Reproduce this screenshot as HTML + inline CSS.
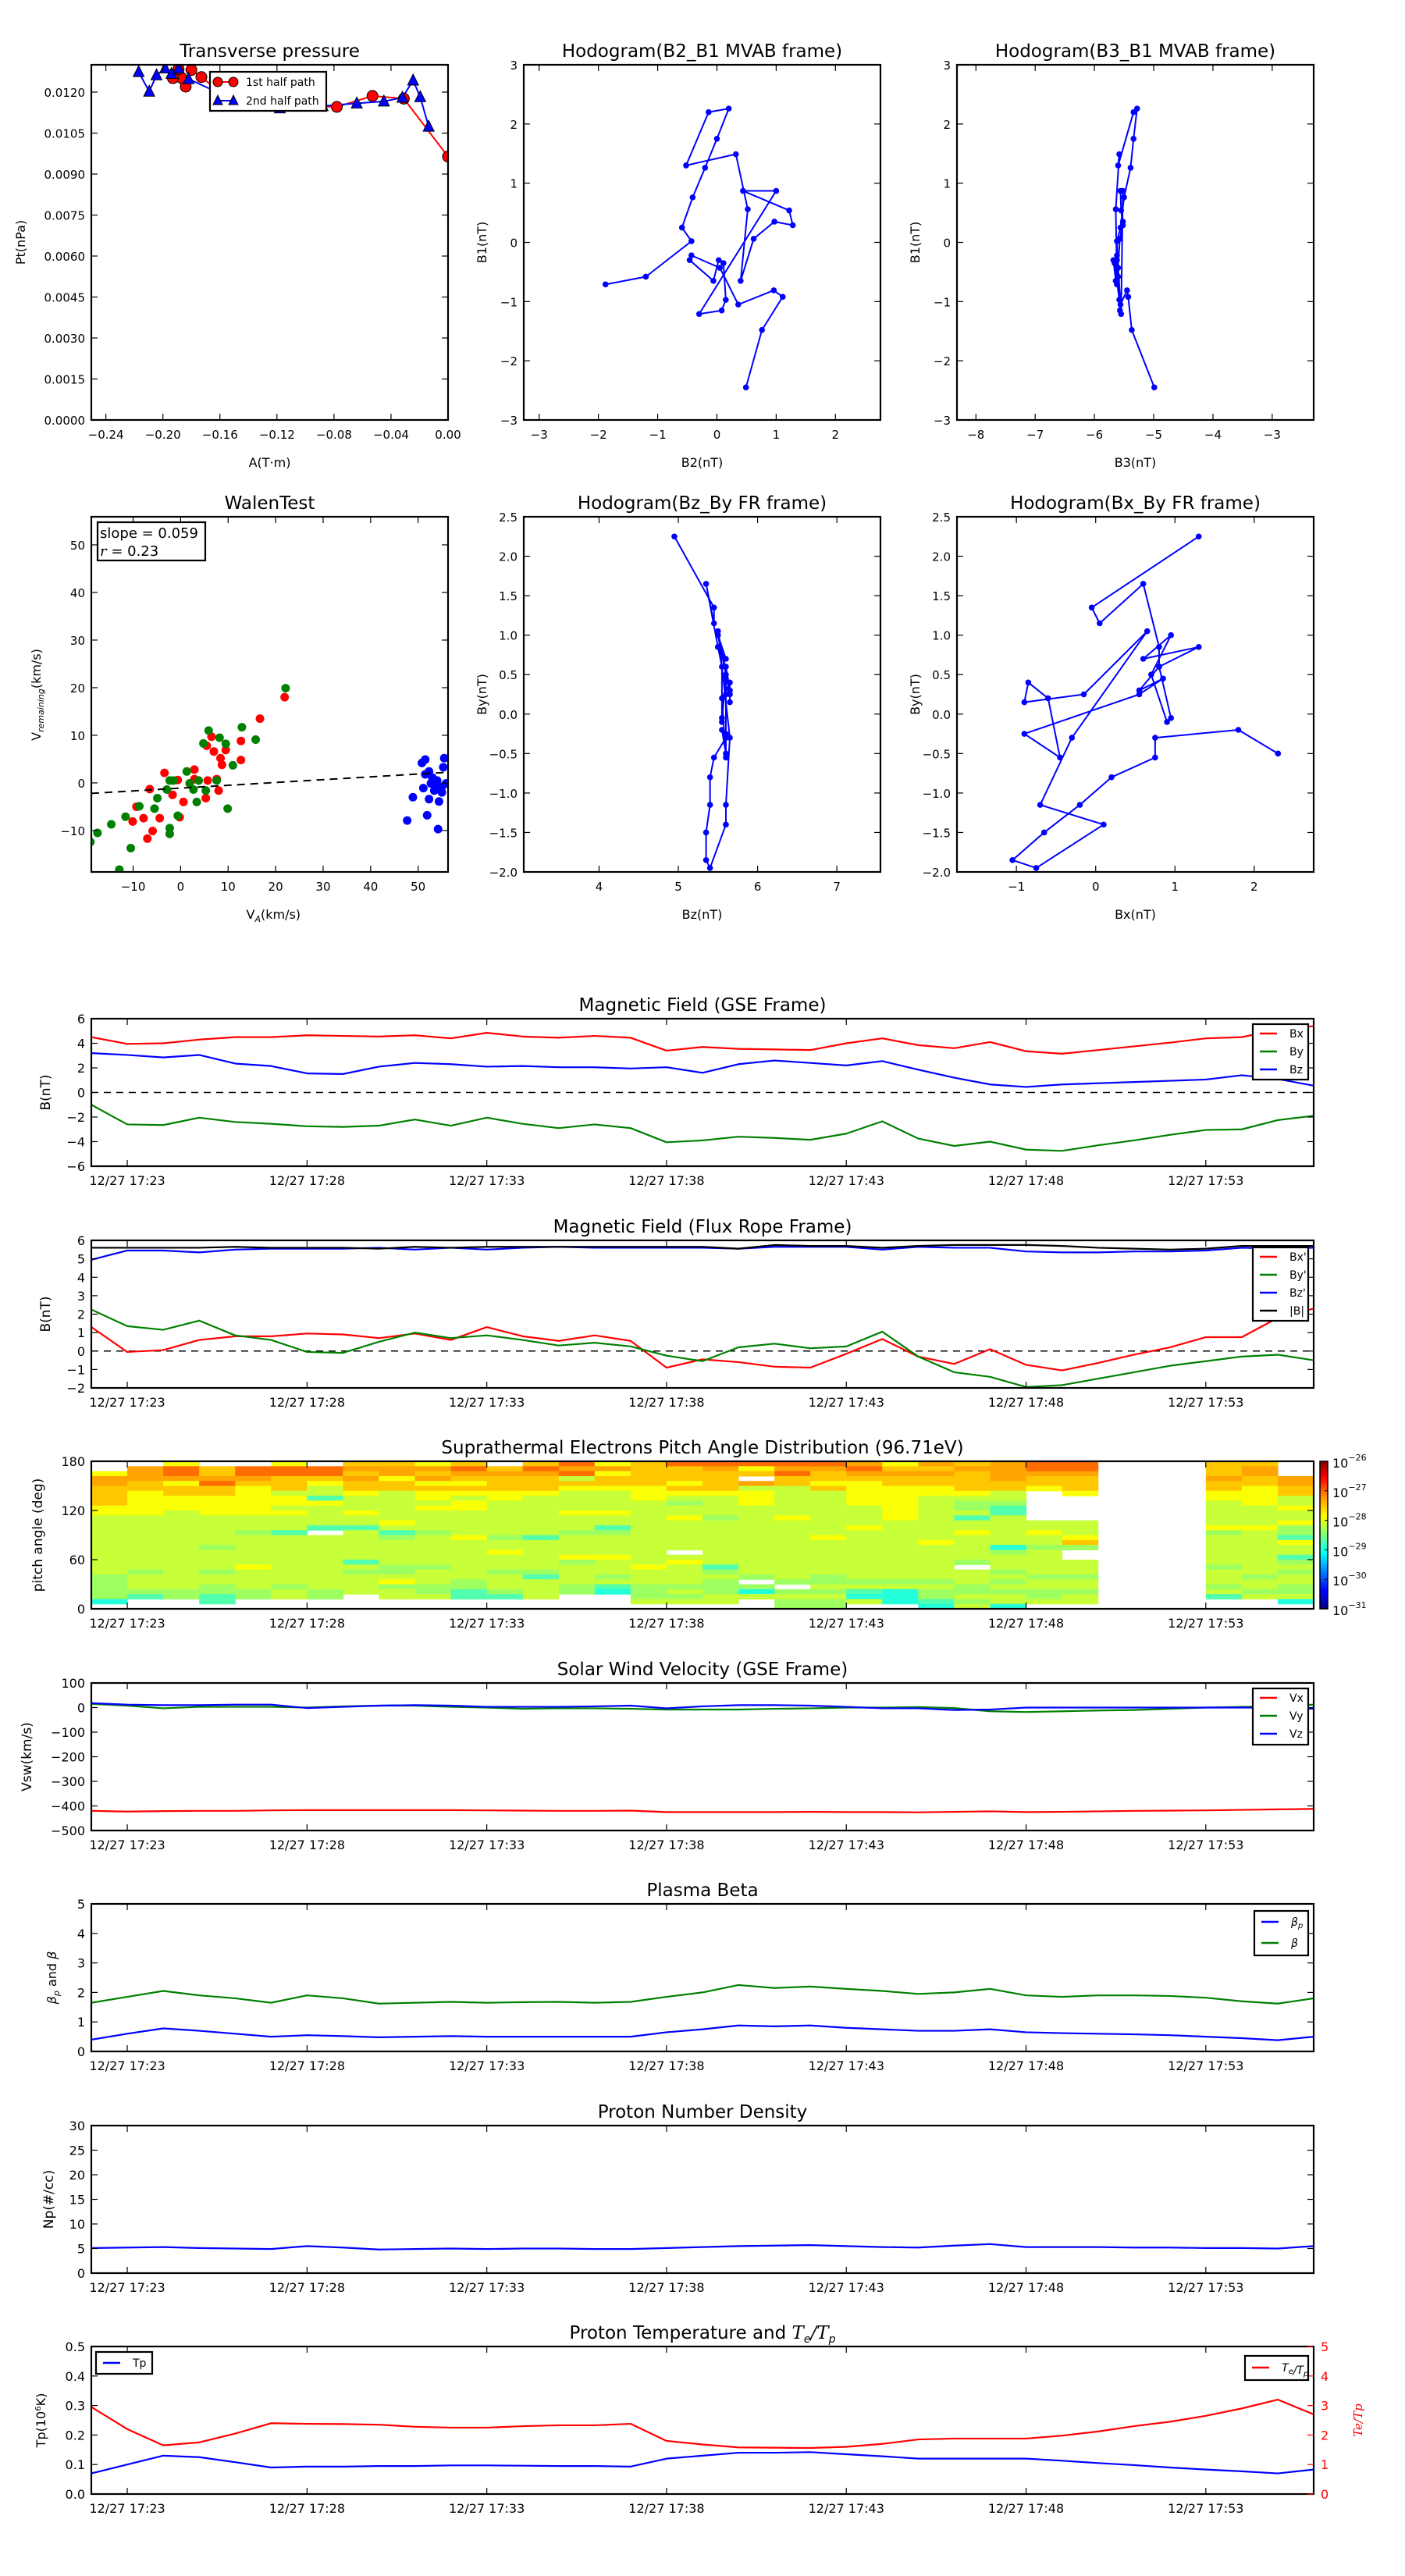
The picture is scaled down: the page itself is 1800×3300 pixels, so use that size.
<!DOCTYPE html>
<html><head><meta charset="utf-8"><title>Flux rope analysis</title>
<style>
html,body{margin:0;padding:0;background:#fff;}
svg{display:block;font-family:"DejaVu Sans","Liberation Sans",sans-serif;}
</style></head>
<body>
<svg id="fig" width="1800" height="3300" viewBox="0 0 1800 3300" xmlns="http://www.w3.org/2000/svg">
<rect x="0" y="0" width="1800" height="3300" fill="#fff"/>
<defs>
<linearGradient id="jetgrad" x1="0" y1="1" x2="0" y2="0">
<stop offset="0" stop-color="#00007f"/><stop offset="0.11" stop-color="#0000ff"/><stop offset="0.125" stop-color="#0000ff"/>
<stop offset="0.34" stop-color="#00ddff"/><stop offset="0.375" stop-color="#00ffff"/><stop offset="0.5" stop-color="#7fff7f"/>
<stop offset="0.625" stop-color="#ffff00"/><stop offset="0.75" stop-color="#ff9900"/><stop offset="0.89" stop-color="#ff0000"/><stop offset="1" stop-color="#7f0000"/>
</linearGradient>
</defs>
</svg>
<script>
// ---------- data ----------
const times = [-1,0,1,2,3,4,5,6,7,8,9,10,11,12,13,14,15,16,17,18,19,20,21,22,23,24,25,26,27,28,29,30,31,32,33];
const timeTicks = [0,5,10,15,20,25,30];
const timeTickLabels = ["12/27 17:23","12/27 17:28","12/27 17:33","12/27 17:38","12/27 17:43","12/27 17:48","12/27 17:53"];

const gseBx = [4.5,3.95,4.0,4.3,4.5,4.5,4.65,4.6,4.55,4.65,4.4,4.85,4.55,4.45,4.6,4.45,3.4,3.7,3.55,3.5,3.45,4.0,4.4,3.85,3.6,4.1,3.35,3.15,3.45,3.75,4.05,4.4,4.5,5.1,5.4];
const gseBy = [-1.0,-2.6,-2.65,-2.05,-2.4,-2.55,-2.75,-2.8,-2.7,-2.2,-2.7,-2.05,-2.55,-2.9,-2.6,-2.9,-4.05,-3.9,-3.6,-3.7,-3.85,-3.35,-2.35,-3.75,-4.35,-4.0,-4.65,-4.75,-4.3,-3.9,-3.45,-3.05,-3.0,-2.25,-1.9];
const gseBz = [3.2,3.05,2.85,3.05,2.35,2.15,1.55,1.5,2.1,2.4,2.3,2.1,2.15,2.05,2.05,1.95,2.05,1.6,2.3,2.6,2.4,2.2,2.55,1.85,1.2,0.65,0.45,0.65,0.75,0.85,0.95,1.05,1.4,1.1,0.55];

const frBx = [1.3,-0.05,0.05,0.6,0.8,0.8,0.95,0.9,0.7,0.95,0.6,1.3,0.8,0.55,0.85,0.55,-0.9,-0.45,-0.6,-0.85,-0.9,-0.15,0.65,-0.3,-0.7,0.1,-0.75,-1.05,-0.65,-0.2,0.2,0.75,0.75,1.8,2.3];
const frBy = [2.25,1.35,1.15,1.65,0.85,0.6,-0.05,-0.1,0.5,1.0,0.7,0.85,0.6,0.3,0.45,0.25,-0.25,-0.55,0.2,0.4,0.15,0.25,1.05,-0.3,-1.15,-1.4,-1.95,-1.85,-1.5,-1.15,-0.8,-0.55,-0.3,-0.2,-0.5];
const frBz = [4.95,5.45,5.45,5.35,5.5,5.55,5.55,5.55,5.6,5.5,5.6,5.5,5.6,5.65,5.6,5.6,5.6,5.6,5.55,5.65,5.65,5.65,5.5,5.65,5.6,5.6,5.4,5.35,5.35,5.4,5.4,5.45,5.6,5.55,5.6];
const frBt = [5.6,5.6,5.6,5.6,5.65,5.6,5.6,5.6,5.55,5.65,5.6,5.65,5.65,5.65,5.65,5.65,5.65,5.65,5.55,5.75,5.7,5.7,5.6,5.7,5.75,5.75,5.75,5.7,5.6,5.55,5.5,5.55,5.7,5.7,5.7];

const swVx = [-420,-423,-421,-420,-420,-418,-417,-417,-417,-417,-417,-418,-419,-420,-420,-419,-425,-425,-425,-425,-424,-425,-425,-426,-424,-422,-425,-424,-422,-420,-419,-418,-416,-414,-412];
const swVy = [15,8,-3,3,3,3,0,5,8,8,3,0,-5,-3,-3,-5,-8,-8,-8,-5,-3,0,0,2,-2,-15,-18,-15,-12,-10,-5,0,3,5,12];
const swVz = [18,12,10,10,12,12,-2,3,8,10,8,3,3,3,5,8,-3,5,10,10,8,3,-3,-3,-10,-8,0,0,0,0,0,0,0,0,-5];

const betaP = [0.4,0.6,0.78,0.7,0.6,0.5,0.55,0.52,0.48,0.5,0.52,0.5,0.5,0.5,0.5,0.5,0.65,0.75,0.88,0.85,0.88,0.8,0.75,0.7,0.7,0.75,0.65,0.62,0.6,0.58,0.55,0.5,0.45,0.38,0.5];
const betaAll = [1.65,1.85,2.05,1.9,1.8,1.65,1.9,1.8,1.62,1.65,1.68,1.65,1.67,1.68,1.65,1.68,1.85,2.0,2.25,2.15,2.2,2.12,2.05,1.95,2.0,2.12,1.9,1.85,1.9,1.9,1.88,1.82,1.7,1.62,1.8];

const protonNp = [5.1,5.2,5.3,5.1,5.0,4.9,5.5,5.2,4.8,4.9,5.0,4.9,5.0,5.0,4.9,4.9,5.1,5.3,5.5,5.6,5.7,5.5,5.3,5.2,5.6,5.9,5.3,5.3,5.3,5.2,5.2,5.1,5.1,5.0,5.5];

const protonTp = [0.07,0.1,0.13,0.125,0.108,0.09,0.093,0.093,0.095,0.095,0.097,0.097,0.096,0.095,0.095,0.093,0.12,0.13,0.14,0.14,0.142,0.135,0.128,0.12,0.12,0.12,0.12,0.113,0.105,0.098,0.09,0.083,0.077,0.07,0.083];
const teTpRatio = [2.95,2.2,1.65,1.75,2.05,2.4,2.38,2.37,2.35,2.28,2.25,2.25,2.3,2.33,2.33,2.38,1.8,1.68,1.58,1.57,1.56,1.6,1.7,1.85,1.88,1.88,1.88,1.98,2.12,2.3,2.45,2.65,2.9,3.2,2.7];

// transverse pressure
const tpA1 = [0,-0.031,-0.053,-0.078,-0.12,-0.16,-0.173,-0.18,-0.184,-0.187,-0.189,-0.193];
const tpP1 = [0.00964,0.01176,0.01186,0.01146,0.0115,0.0120,0.01255,0.01281,0.0122,0.01252,0.01284,0.01251];
const tpA2 = [-0.217,-0.2096,-0.2045,-0.1984,-0.194,-0.189,-0.182,-0.162,-0.118,-0.088,-0.064,-0.045,-0.032,-0.0245,-0.0195,-0.0136];
const tpP2 = [0.01274,0.01202,0.01262,0.01287,0.01267,0.01287,0.01248,0.0120,0.01141,0.01149,0.01159,0.01166,0.0118,0.01243,0.01182,0.01074];

// MVAB hodograms
const mvB1 = [-0.71,-0.58,0.02,0.25,0.76,1.26,1.75,2.26,2.20,1.30,1.49,0.56,-0.65,0.06,0.35,0.29,0.54,0.87,0.87,-1.21,-1.15,-0.97,-0.35,-0.30,-0.65,-0.30,-0.22,-0.43,-1.05,-0.81,-0.92,-1.48,-2.45];
const mvB2 = [-1.88,-1.20,-0.43,-0.59,-0.41,-0.20,0.00,0.20,-0.14,-0.52,0.32,0.52,0.40,0.62,0.97,1.28,1.22,0.44,1.00,-0.30,0.08,0.15,0.11,0.03,-0.06,-0.46,-0.43,0.05,0.36,0.96,1.11,0.76,0.49];
const mvB3 = [-5.62,-5.60,-5.62,-5.56,-5.50,-5.39,-5.34,-5.28,-5.34,-5.60,-5.58,-5.64,-5.62,-5.57,-5.52,-5.52,-5.55,-5.56,-5.52,-5.55,-5.57,-5.58,-5.66,-5.62,-5.64,-5.68,-5.62,-5.60,-5.56,-5.45,-5.43,-5.37,-4.99];

// Walen test
const walenRedX = [21.9,16.7,12.7,12.7,6.5,9.5,8.4,8.7,7.0,5.5,8.0,7.6,5.3,5.7,2.9,0.6,-0.2,-1.7,-3.4,-4.4,-6.5,-5.9,-7.0,-7.8,-10.1,-9.3,2.9,-0.6];
const walenRedY = [18.0,13.5,8.8,4.8,9.7,6.9,5.2,3.8,6.6,7.8,-1.6,0.8,-3.2,0.5,2.8,-4.0,-7.2,-2.5,2.1,-7.4,-1.3,-10.1,-11.7,-7.4,-8.1,-5.0,0.8,0.6];
const walenGreenX = [22.1,12.9,15.8,5.9,8.2,4.8,9.5,11.0,9.9,7.6,3.8,5.3,1.3,1.9,2.7,3.4,-1.5,-2.3,-2.9,-4.9,-5.5,-8.7,-2.3,-2.3,-0.6,-11.6,-14.6,-17.5,-10.5,-19.0,-12.9];
const walenGreenY = [19.9,11.7,9.1,11.0,9.5,8.3,8.2,3.7,-5.4,0.5,0.5,-1.6,2.4,-0.1,-1.4,-4.0,0.5,0.5,-1.4,-3.2,-5.4,-4.9,-9.5,-10.7,-6.9,-7.1,-8.7,-10.5,-13.7,-12.4,-18.2];
const walenBlueX = [50.8,51.5,52.3,53.0,54.0,55.0,55.5,55.3,52.3,48.9,47.7,51.9,54.2,53.4,55.0,55.9,52.7,51.5,54.4,53.8,51.1];
const walenBlueY = [4.2,4.9,2.4,1.1,0.5,-0.8,5.2,3.3,-3.4,-3.0,-7.9,-6.8,-9.7,-1.6,-2.0,-0.1,-0.1,1.8,-3.9,-0.8,-1.1];
const walenSlope = 0.059;
const walenIntercept = -1.09;

// pitch-angle distribution: one string per time column, 30 bins from 180 deg down to 0 deg
const padCodes = {r:-27.16,o:-27.43,a:-27.6,y:-27.9,l:-28.15,g:-28.35,c:-28.73,t:-28.95};
const padCols = [
"..yooaaaayyllllllllllllgggggt.",
".oooaayyyyylllllllllllglllgc..",
"yrroyaayyyllllllllllllllllgg..",
".aaoraayyyyllllllgllllgllggcc.",
".rroayyyyyylllgllllllyllllgg..",
"yrraaalyylylllcllllllllllgll..",
".rrayllcyllllc.lllllllllllgg..",
"aoaoaaylllyllcllllllclgllll...",
"aooyaallllllylcglllllgglygll..",
"yoaoyayylyllllgllllllglllggl..",
"aroayaylyylllllyllllllllggcc..",
".aoaaayylllllllgllylllglllgc..",
"aroaaayllllllllcllllllgcllll..",
"rorlayllllylllgllllygllllgg...",
"yoyaayllllyllcgllllylllglct...",
"aaaaayyylllllllllllllylllgggl.",
"raaayaylgllyllllll.lyllllglgl.",
"roaaaayllllglllllllllcglgggll.",
"rya.olyyyllllllllllllllg.gtl..",
"roraallllllyllllllllllllg.glgg",
"roaayalllllllllylllllllgglglgg",
"oroayyyyyllllyllllllllllglctl.",
"yaoaayyyyyyyllllllllllllglttt.",
"oaoaayylllllllllylllllllglggct",
"aoaaaaylgglcllylllllg.lllgglgl",
"ooooaallgcclllllltglllglglgllt",
"rroaay......llyllglllllgllggl.",
"rroaaay.....lllyag..lllgllgll.",
"..............................",
"..............................",
"..............................",
"aaaoaayylllllygllllllglllglc..",
"aooaayyyyllllylllllllllgllgl..",
"...ooaallyllyggcyllcglgllgglt."
];
const padLogMin = -31, padLogMax = -26;

// ---------- drawing helpers ----------
const NS = 'http://www.w3.org/2000/svg';
const svg = document.getElementById('fig');
let clipCount = 0;
function mk(tag, attrs, parent, name) {
  const e = document.createElementNS(NS, tag);
  for (const k in attrs) e.setAttribute(k, attrs[k]);
  
  
  (parent || svg).appendChild(e);
  return e;
}
function text(str, x, y, size, anchor, parent, name, extra) {
  const a = {x: x, y: y, 'font-size': size, 'text-anchor': anchor || 'middle', fill: '#000'};
  if (extra) for (const k in extra) a[k] = extra[k];
  const t = mk('text', a, parent, name);
  t.textContent = str;
  return t;
}
function fmtMinus(s) { return String(s).replace('-', '\u2212'); }

function makeAxes(name, x0, y0, w, h, xr, yr) {
  const g = mk('g', {}, svg, name);
  const id = 'clip' + (clipCount++);
  const cp = mk('clipPath', {id: id}, g, name + '-clip');
  mk('rect', {x: x0, y: y0, width: w, height: h}, cp, name + '-clip-rect');
  const plot = mk('g', {'clip-path': 'url(#' + id + ')'}, g, name + '-plot-area');
  const ax = {g: g, plot: plot, x0: x0, y0: y0, w: w, h: h,
    sx: v => x0 + (v - xr[0]) / (xr[1] - xr[0]) * w,
    sy: v => y0 + h - (v - yr[0]) / (yr[1] - yr[0]) * h};
  return ax;
}
function frame(ax, name) {
  mk('rect', {x: ax.x0, y: ax.y0, width: ax.w, height: ax.h, fill: 'none', stroke: '#000', 'stroke-width': 2.2}, ax.g, name);
}
function xTicks(ax, vals, labels, name, size) {
  vals.forEach((v, i) => {
    const x = ax.sx(v);
    mk('line', {x1: x, y1: ax.y0 + ax.h, x2: x, y2: ax.y0 + ax.h - 8, stroke: '#000', 'stroke-width': 1.2}, ax.g, name + '-tick');
    mk('line', {x1: x, y1: ax.y0, x2: x, y2: ax.y0 + 8, stroke: '#000', 'stroke-width': 1.2}, ax.g, name + '-tick-top');
    text(labels[i], x, ax.y0 + ax.h + 24, size || 16, 'middle', ax.g, name + '-label');
  });
}
function yTicks(ax, vals, labels, name, opts) {
  opts = opts || {};
  vals.forEach((v, i) => {
    const y = ax.sy(v);
    mk('line', {x1: ax.x0, y1: y, x2: ax.x0 + 8, y2: y, stroke: '#000', 'stroke-width': 1.2}, ax.g, name + '-tick');
    mk('line', {x1: ax.x0 + ax.w, y1: y, x2: ax.x0 + ax.w - 8, y2: y, stroke: opts.rightColor || '#000', 'stroke-width': 1.2}, ax.g, name + '-tick-right');
    if (!opts.noLabel) text(labels[i], ax.x0 - 8, y + 6, opts.size || 16, 'end', ax.g, name + '-label');
  });
}
function line(ax, xs, ys, color, name, width, dash) {
  const pts = xs.map((x, i) => ax.sx(x).toFixed(2) + ',' + ax.sy(ys[i]).toFixed(2)).join(' ');
  const a = {points: pts, fill: 'none', stroke: color, 'stroke-width': width || 2.2, 'stroke-linejoin': 'round'};
  if (dash) a['stroke-dasharray'] = dash;
  return mk('polyline', a, ax.plot, name);
}
function dots(ax, xs, ys, color, r, name) {
  xs.forEach((x, i) => {
    mk('circle', {cx: ax.sx(x), cy: ax.sy(ys[i]), r: r, fill: color}, ax.plot, name);
  });
}
function title(ax, str, name) { return text(str, ax.x0 + ax.w / 2, ax.y0 - 10, 23, 'middle', svg, name); }
function ylabel(str, x, y, name, size, color) {
  return text(str, x, y, size || 17, 'middle', svg, name, {transform: 'rotate(-90 ' + x + ' ' + y + ')', fill: color || '#000'});
}
function legend(x, y, w, h, entries, name) {
  const g = mk('g', {}, svg, name);
  mk('rect', {x: x, y: y, width: w, height: h, fill: '#fff', stroke: '#000', 'stroke-width': 2.2}, g, name + '-box');
  entries.forEach(e => {
    mk('line', {x1: x + 9, y1: e.y, x2: x + 31, y2: e.y, stroke: e.color, 'stroke-width': 2.5}, g, name + '-swatch');
    const t = text('', x + 47, e.y + 5, 14, 'start', g, name + '-entry');
    e.parts.forEach(p => {
      const s = document.createElementNS(NS, 'tspan');
      
      
      if (p.sub) { s.setAttribute('font-size', '10'); s.setAttribute('dy', '3'); }
      if (p.it) s.setAttribute('font-style', 'italic');
      s.textContent = p.t;
      t.appendChild(s);
    });
  });
}
function jet(v) {
  const c = x => Math.max(0, Math.min(1, x));
  const r = c(1.5 - Math.abs(4 * v - 3)), g = c(1.5 - Math.abs(4 * v - 2)), b = c(1.5 - Math.abs(4 * v - 1));
  return 'rgb(' + Math.round(r * 255) + ',' + Math.round(g * 255) + ',' + Math.round(b * 255) + ')';
}

const TX = 117, TW = 1566, TH = 189;
const tRange = [times[0], times[times.length - 1]];

// ---------- Transverse pressure ----------
(function () {
  const ax = makeAxes('transverse-pressure-chart', 117, 83, 457, 455, [-0.2502, 0], [0, 0.0130]);
  line(ax, tpA1, tpP1, '#ff0000', 'first-half-path-line', 2);
  line(ax, tpA2, tpP2, '#0000ff', 'second-half-path-line', 2);
  tpA1.forEach((a, i) => {
    mk('circle', {cx: ax.sx(a), cy: ax.sy(tpP1[i]), r: 7, fill: '#ff0000', stroke: '#000', 'stroke-width': 1}, ax.plot, 'first-half-marker');
  });
  tpA2.forEach((a, i) => {
    const x = ax.sx(a), y = ax.sy(tpP2[i]);
    mk('polygon', {points: x + ',' + (y - 8) + ' ' + (x - 7) + ',' + (y + 6) + ' ' + (x + 7) + ',' + (y + 6), fill: '#0000ff', stroke: '#000', 'stroke-width': 1}, ax.plot, 'second-half-marker');
  });
  frame(ax, 'transverse-pressure-frame');
  xTicks(ax, [-0.24, -0.20, -0.16, -0.12, -0.08, -0.04, 0], ['\u22120.24', '\u22120.20', '\u22120.16', '\u22120.12', '\u22120.08', '\u22120.04', '0.00'], 'pt-x-tick', 15);
  yTicks(ax, [0, 0.0015, 0.003, 0.0045, 0.006, 0.0075, 0.009, 0.0105, 0.012], ['0.0000', '0.0015', '0.0030', '0.0045', '0.0060', '0.0075', '0.0090', '0.0105', '0.0120'], 'pt-y-tick', {size: 15});
  title(ax, 'Transverse pressure', 'transverse-pressure-title');
  text('A(T\u00b7m)', ax.x0 + ax.w / 2, 598, 16, 'middle', svg, 'pt-x-axis-title');
  ylabel('Pt(nPa)', 32, ax.y0 + ax.h / 2, 'pt-y-axis-title', 16);
  const lg = mk('g', {}, svg, 'pt-legend');
  mk('rect', {x: 269, y: 92, width: 149, height: 50, fill: '#fff', stroke: '#000', 'stroke-width': 2.2}, lg, 'pt-legend-box');
  mk('line', {x1: 279, y1: 105, x2: 299, y2: 105, stroke: '#ff0000', 'stroke-width': 2}, lg, 'pt-legend-red-line');
  mk('circle', {cx: 279, cy: 105, r: 6, fill: '#ff0000', stroke: '#000', 'stroke-width': 1}, lg, 'pt-legend-red-marker');
  mk('circle', {cx: 299, cy: 105, r: 6, fill: '#ff0000', stroke: '#000', 'stroke-width': 1}, lg, 'pt-legend-red-marker');
  text('1st half path', 315, 110, 14, 'start', lg, 'pt-legend-first');
  mk('line', {x1: 279, y1: 129, x2: 299, y2: 129, stroke: '#0000ff', 'stroke-width': 2}, lg, 'pt-legend-blue-line');
  mk('polygon', {points: '279,122 273,134 285,134', fill: '#0000ff', stroke: '#000', 'stroke-width': 1}, lg, 'pt-legend-blue-marker');
  mk('polygon', {points: '299,122 293,134 305,134', fill: '#0000ff', stroke: '#000', 'stroke-width': 1}, lg, 'pt-legend-blue-marker');
  text('2nd half path', 315, 134, 14, 'start', lg, 'pt-legend-second');
})();

// ---------- MVAB hodograms ----------
function hodogram(name, x0, y0, xs, ys, xr, yr, xt, xl, yt, yl, ttl, xlab, ylab) {
  const ax = makeAxes(name, x0, y0, 457, 455, xr, yr);
  line(ax, xs, ys, '#0000ff', name + '-path', 2);
  dots(ax, xs, ys, '#0000ff', 3.8, name + '-point');
  frame(ax, name + '-frame');
  xTicks(ax, xt, xl, name + '-x-tick', 15);
  yTicks(ax, yt, yl, name + '-y-tick', {size: 15});
  title(ax, ttl, name + '-title');
  text(xlab, ax.x0 + ax.w / 2, y0 + 515, 16, 'middle', svg, name + '-x-axis-title');
  ylabel(ylab, x0 - 48, y0 + ax.h / 2, name + '-y-axis-title', 16);
  return ax;
}
hodogram('hodogram-b2-b1', 671, 83, mvB2, mvB1, [-3.26, 2.76], [-3, 3], [-3, -2, -1, 0, 1, 2], ['\u22123', '\u22122', '\u22121', '0', '1', '2'], [-3, -2, -1, 0, 1, 2, 3], ['\u22123', '\u22122', '\u22121', '0', '1', '2', '3'], 'Hodogram(B2_B1 MVAB frame)', 'B2(nT)', 'B1(nT)');
hodogram('hodogram-b3-b1', 1226, 83, mvB3, mvB1, [-8.32, -2.3], [-3, 3], [-8, -7, -6, -5, -4, -3], ['\u22128', '\u22127', '\u22126', '\u22125', '\u22124', '\u22123'], [-3, -2, -1, 0, 1, 2, 3], ['\u22123', '\u22122', '\u22121', '0', '1', '2', '3'], 'Hodogram(B3_B1 MVAB frame)', 'B3(nT)', 'B1(nT)');
const halfTicks = [-2, -1.5, -1, -0.5, 0, 0.5, 1, 1.5, 2, 2.5];
const halfLabels = ['\u22122.0', '\u22121.5', '\u22121.0', '\u22120.5', '0.0', '0.5', '1.0', '1.5', '2.0', '2.5'];
hodogram('hodogram-bz-by', 671, 662, frBz, frBy, [3.05, 7.55], [-2, 2.5], [4, 5, 6, 7], ['4', '5', '6', '7'], halfTicks, halfLabels, 'Hodogram(Bz_By FR frame)', 'Bz(nT)', 'By(nT)');
hodogram('hodogram-bx-by', 1226, 662, frBx, frBy, [-1.75, 2.75], [-2, 2.5], [-1, 0, 1, 2], ['\u22121', '0', '1', '2'], halfTicks, halfLabels, 'Hodogram(Bx_By FR frame)', 'Bx(nT)', 'By(nT)');

// ---------- Walen test ----------
(function () {
  const ax = makeAxes('walen-test-chart', 117, 662, 457, 455, [-18.8, 56.3], [-18.7, 55.9]);
  dots(ax, walenRedX, walenRedY, '#ff0000', 5.5, 'walen-red-point');
  dots(ax, walenGreenX, walenGreenY, '#008000', 5.5, 'walen-green-point');
  dots(ax, walenBlueX, walenBlueY, '#0000ff', 5.5, 'walen-blue-point');
  const fx = [-18.8, 56.3];
  line(ax, fx, fx.map(x => walenIntercept + walenSlope * x), '#000', 'walen-fit-line', 2, '10,7');
  frame(ax, 'walen-frame');
  xTicks(ax, [-10, 0, 10, 20, 30, 40, 50], ['\u221210', '0', '10', '20', '30', '40', '50'], 'walen-x-tick', 15);
  yTicks(ax, [-10, 0, 10, 20, 30, 40, 50], ['\u221210', '0', '10', '20', '30', '40', '50'], 'walen-y-tick', {size: 15});
  title(ax, 'WalenTest', 'walen-title');
  const xl = text('V', ax.x0 + ax.w / 2 - 30, 1177, 16, 'start', svg, 'walen-x-axis-title');
  const s1 = document.createElementNS(NS, 'tspan');
  
  
  s1.setAttribute('font-size', '11'); s1.setAttribute('font-style', 'italic'); s1.setAttribute('dy', '4');
  s1.textContent = 'A';
  xl.appendChild(s1);
  const s2 = document.createElementNS(NS, 'tspan');
  
  
  s2.setAttribute('dy', '-4');
  s2.textContent = '(km/s)';
  xl.appendChild(s2);
  const yl = text('V', 0, 0, 16, 'middle', svg, 'walen-y-axis-title', {transform: 'translate(52 890) rotate(-90)'});
  const s3 = document.createElementNS(NS, 'tspan');
  
  
  s3.setAttribute('font-size', '11'); s3.setAttribute('font-style', 'italic'); s3.setAttribute('dy', '4');
  s3.textContent = 'remaining';
  yl.appendChild(s3);
  const s4 = document.createElementNS(NS, 'tspan');
  
  
  s4.setAttribute('dy', '-4');
  s4.textContent = '(km/s)';
  yl.appendChild(s4);
  mk('rect', {x: 125, y: 669, width: 138, height: 49, fill: '#fff', stroke: '#000', 'stroke-width': 2.2}, svg, 'walen-stats-box');
  text('slope = ' + walenSlope.toFixed(3), 128, 689, 18, 'start', svg, 'walen-slope-text');
  const rt = text('', 128, 712, 18, 'start', svg, 'walen-r-text');
  const ri = document.createElementNS(NS, 'tspan');
  
  
  ri.setAttribute('font-style', 'italic');
  ri.setAttribute('font-family', 'DejaVu Serif, serif');
  ri.textContent = 'r';
  rt.appendChild(ri);
  const rv = document.createElementNS(NS, 'tspan');
  
  
  rv.textContent = ' = 0.23';
  rt.appendChild(rv);
})();

// ---------- time-series panels ----------
function timePanel(name, y0, yr, yt, yl, ttl) {
  const ax = makeAxes(name, TX, y0, TW, TH, tRange, yr);
  return ax;
}
function finishTime(ax, name, yt, yl, ttl, opts) {
  frame(ax, name + '-frame');
  xTicks(ax, timeTicks, timeTickLabels, name + '-x-tick', 16);
  yTicks(ax, yt, yl, name + '-y-tick', opts);
  title(ax, ttl, name + '-title');
}
function zeroLine(ax, name) {
  line(ax, tRange, [0, 0], '#000', name, 1.4, '9,7');
}

// GSE
(function () {
  const ax = timePanel('magnetic-field-gse-chart', 1305, [-6, 6]);
  zeroLine(ax, 'gse-zero-line');
  line(ax, times, gseBx, '#ff0000', 'gse-bx-line');
  line(ax, times, gseBy, '#008000', 'gse-by-line');
  line(ax, times, gseBz, '#0000ff', 'gse-bz-line');
  finishTime(ax, 'gse', [-6, -4, -2, 0, 2, 4, 6], ['\u22126', '\u22124', '\u22122', '0', '2', '4', '6'], 'Magnetic Field (GSE Frame)');
  ylabel('B(nT)', 64, 1305 + TH / 2, 'gse-y-axis-title');
  legend(1605, 1312, 71, 71, [{y: 1324, color: '#ff0000', parts: [{t: 'Bx'}]}, {y: 1347, color: '#008000', parts: [{t: 'By'}]}, {y: 1370, color: '#0000ff', parts: [{t: 'Bz'}]}], 'gse-legend');
})();

// Flux rope frame
(function () {
  const ax = timePanel('magnetic-field-fr-chart', 1589, [-2, 6]);
  zeroLine(ax, 'fr-zero-line');
  line(ax, times, frBx, '#ff0000', 'fr-bx-line');
  line(ax, times, frBy, '#008000', 'fr-by-line');
  line(ax, times, frBz, '#0000ff', 'fr-bz-line');
  line(ax, times, frBt, '#000000', 'fr-btotal-line');
  finishTime(ax, 'fr', [-2, -1, 0, 1, 2, 3, 4, 5, 6], ['\u22122', '\u22121', '0', '1', '2', '3', '4', '5', '6'], 'Magnetic Field (Flux Rope Frame)');
  ylabel('B(nT)', 64, 1589 + TH / 2, 'fr-y-axis-title');
  legend(1605, 1598, 71, 94, [{y: 1610, color: '#ff0000', parts: [{t: "Bx'"}]}, {y: 1633, color: '#008000', parts: [{t: "By'"}]}, {y: 1656, color: '#0000ff', parts: [{t: "Bz'"}]}, {y: 1679, color: '#000', parts: [{t: '|B|'}]}], 'fr-legend');
})();

// Pitch angle distribution
(function () {
  const ax = timePanel('pitch-angle-chart', 1872, [0, 180]);
  padCols.forEach((col, c) => {
    for (let r = 0; r < 30; r++) {
      const code = col.charAt(r);
      if (!(code in padCodes)) continue;
      const v = (padCodes[code] - padLogMin) / (padLogMax - padLogMin);
      const xa = ax.sx(times[c]), xb = ax.sx(c + 1 < times.length ? times[c + 1] : tRange[1]);
      const ya = ax.sy(180 - 6 * r), yb = ax.sy(180 - 6 * (r + 1));
      mk('rect', {x: xa.toFixed(2), y: ya.toFixed(2), width: (xb - xa + 0.6).toFixed(2), height: (yb - ya + 0.6).toFixed(2), fill: jet(v)}, ax.plot, 'pad-cell');
    }
  });
  finishTime(ax, 'pad', [0, 60, 120, 180], ['0', '60', '120', '180'], 'Suprathermal Electrons Pitch Angle Distribution (96.71eV)');
  ylabel('pitch angle (deg)', 54, 1872 + TH / 2, 'pad-y-axis-title');
  const cb = mk('g', {}, svg, 'pad-colorbar');
  mk('rect', {x: 1691, y: 1872, width: 10, height: TH, fill: 'url(#jetgrad)', stroke: '#000', 'stroke-width': 1.5}, cb, 'pad-colorbar-gradient');
  [-26, -27, -28, -29, -30, -31].forEach((p, i) => {
    const y = 1872 + (padLogMax - p) / (padLogMax - padLogMin) * TH;
    mk('line', {x1: 1697, y1: y, x2: 1701, y2: y, stroke: '#000', 'stroke-width': 1}, cb, 'pad-colorbar-tick');
    const t = text('10', 1707, y + 8, 16, 'start', cb, 'pad-colorbar-label');
    const sp = document.createElementNS(NS, 'tspan');
    
    
    sp.setAttribute('font-size', '11');
    sp.setAttribute('dy', '-9');
    sp.textContent = '\u2212' + Math.abs(p);
    t.appendChild(sp);
  });
})();

// Solar wind velocity
(function () {
  const ax = timePanel('solar-wind-velocity-chart', 2156, [-500, 100]);
  line(ax, times, swVx, '#ff0000', 'sw-vx-line');
  line(ax, times, swVy, '#008000', 'sw-vy-line');
  line(ax, times, swVz, '#0000ff', 'sw-vz-line');
  finishTime(ax, 'sw', [-500, -400, -300, -200, -100, 0, 100], ['\u2212500', '\u2212400', '\u2212300', '\u2212200', '\u2212100', '0', '100'], 'Solar Wind Velocity (GSE Frame)');
  ylabel('Vsw(km/s)', 40, 2156 + TH / 2, 'sw-y-axis-title');
  legend(1605, 2163, 71, 72, [{y: 2175, color: '#ff0000', parts: [{t: 'Vx'}]}, {y: 2198, color: '#008000', parts: [{t: 'Vy'}]}, {y: 2221, color: '#0000ff', parts: [{t: 'Vz'}]}], 'sw-legend');
})();

// Plasma beta
(function () {
  const ax = timePanel('plasma-beta-chart', 2439, [0, 5]);
  line(ax, times, betaP, '#0000ff', 'beta-p-line');
  line(ax, times, betaAll, '#008000', 'beta-line');
  finishTime(ax, 'beta', [0, 1, 2, 3, 4, 5], ['0', '1', '2', '3', '4', '5'], 'Plasma Beta');
  const yl = text('', 0, 0, 16, 'middle', svg, 'beta-y-axis-title', {transform: 'translate(72 ' + (2439 + TH / 2) + ') rotate(-90)'});
  [['\u03b2', 'italic', 0], ['p', 'italic', 1], [' and ', 'normal', 2], ['\u03b2', 'italic', 3]].forEach(p => {
    const s = document.createElementNS(NS, 'tspan');
    
    
    s.setAttribute('font-style', p[1]);
    if (p[2] === 1) { s.setAttribute('font-size', '11'); s.setAttribute('dy', '4'); }
    if (p[2] === 2) s.setAttribute('dy', '-4');
    s.textContent = p[0];
    yl.appendChild(s);
  });
  legend(1607, 2448, 69, 57, [{y: 2462, color: '#0000ff', parts: [{t: '\u03b2', it: true}, {t: 'p', it: true, sub: true}]}, {y: 2489, color: '#008000', parts: [{t: '\u03b2', it: true}]}], 'beta-legend');
})();

// Proton density
(function () {
  const ax = timePanel('proton-density-chart', 2723, [0, 30]);
  line(ax, times, protonNp, '#0000ff', 'np-line');
  finishTime(ax, 'np', [0, 5, 10, 15, 20, 25, 30], ['0', '5', '10', '15', '20', '25', '30'], 'Proton Number Density');
  ylabel('Np(#/cc)', 68, 2723 + TH / 2, 'np-y-axis-title');
})();

// Proton temperature
(function () {
  const ax = timePanel('proton-temperature-chart', 3006, [0, 0.5]);
  const ax2 = {sx: ax.sx, sy: v => 3006 + TH - v / 5 * TH, plot: ax.plot};
  line(ax2, times, teTpRatio, '#ff0000', 'te-tp-line');
  line(ax, times, protonTp, '#0000ff', 'tp-line');
  finishTime(ax, 'temp', [0, 0.1, 0.2, 0.3, 0.4, 0.5], ['0.0', '0.1', '0.2', '0.3', '0.4', '0.5'], '', {rightColor: '#ff0000'});
  [0, 1, 2, 3, 4, 5].forEach(v => {
    text(String(v), 1692, ax2.sy(v) + 6, 16, 'start', svg, 'temp-right-tick-label', {fill: '#ff0000'});
  });
  const tt = text('Proton Temperature and ', 900, 2996, 23, 'middle', svg, 'temp-title');
  const m1 = document.createElementNS(NS, 'tspan');
  
  
  m1.setAttribute('font-style', 'italic');
  m1.setAttribute('font-family', 'DejaVu Serif, serif');
  m1.textContent = 'T';
  tt.appendChild(m1);
  const m2 = document.createElementNS(NS, 'tspan');
  
  
  m2.setAttribute('font-size', '14'); m2.setAttribute('font-style', 'italic'); m2.setAttribute('dy', '5');
  m2.textContent = 'e';
  tt.appendChild(m2);
  const m3 = document.createElementNS(NS, 'tspan');
  
  
  m3.setAttribute('dy', '-5'); m3.setAttribute('font-style', 'italic'); m3.setAttribute('font-family', 'DejaVu Serif, serif');
  m3.textContent = '/T';
  tt.appendChild(m3);
  const m4 = document.createElementNS(NS, 'tspan');
  
  
  m4.setAttribute('font-size', '14'); m4.setAttribute('font-style', 'italic'); m4.setAttribute('dy', '5');
  m4.textContent = 'p';
  tt.appendChild(m4);
  const yl = text('Tp(10', 0, 0, 16, 'middle', svg, 'temp-y-axis-title', {transform: 'translate(58 ' + (3006 + TH / 2) + ') rotate(-90)'});
  const sup = document.createElementNS(NS, 'tspan');
  
  
  sup.setAttribute('font-size', '10'); sup.setAttribute('dy', '-6');
  sup.textContent = '6';
  yl.appendChild(sup);
  const kk = document.createElementNS(NS, 'tspan');
  
  
  kk.setAttribute('dy', '6');
  kk.textContent = 'K)';
  yl.appendChild(kk);
  text('Te/Tp', 0, 0, 15, 'middle', svg, 'temp-right-axis-title', {transform: 'translate(1745 ' + (3006 + TH / 2) + ') rotate(-90)', fill: '#ff0000', 'font-style': 'italic', 'font-family': 'DejaVu Serif, serif'});
  legend(123, 3013, 72, 28, [{y: 3027, color: '#0000ff', parts: [{t: 'Tp'}]}], 'tp-legend');
  legend(1595, 3018, 81, 31, [{y: 3033, color: '#ff0000', parts: [{t: 'T', it: true}, {t: 'e', it: true, sub: true}, {t: '/T', it: true}, {t: 'p', it: true, sub: true}]}], 'te-tp-legend');
})();
</script>
</body></html>
